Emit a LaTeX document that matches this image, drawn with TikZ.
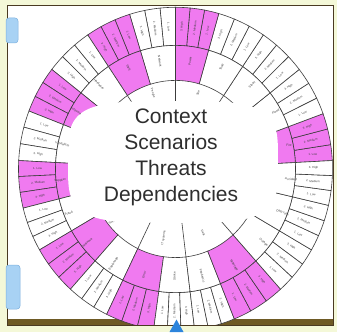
\documentclass[tikz,border=0pt]{standalone}
\usepackage{fontspec}
\setmainfont{Liberation Sans}
\usepackage{tikz}

\definecolor{pagebg}{HTML}{F4F8D8}
\definecolor{framebrown}{HTML}{4A3A22}
\definecolor{barbrown}{HTML}{6E5A24}
\definecolor{wedgepink}{HTML}{F07AF0}
\definecolor{wedgeline}{HTML}{3C3C3C}
\definecolor{tabblue}{HTML}{A8D2F4}
\definecolor{tabedge}{HTML}{7DB0DE}
\definecolor{arrowblue}{HTML}{2C84DC}
\definecolor{titlegray}{HTML}{2E2E2E}

\tikzset{
  wedge/.style={draw=wedgeline, line width=0.6pt},
  outerlabel/.style={font=\fontsize{2.9}{3.3}\selectfont, text=black!75, inner sep=0pt},
  midlabel/.style={font=\fontsize{3.1}{3.5}\selectfont, text=black!75, inner sep=0pt},
  innerlabel/.style={font=\fontsize{3}{3.4}\selectfont, text=black!75, inner sep=0pt},
  sidetab/.style={fill=tabblue, draw=tabedge, line width=0.5pt, rounded corners=3pt},
  title/.style={font=\fontsize{21}{26}\selectfont, text=titlegray, align=center, inner sep=0pt}
}

\begin{document}
\begin{tikzpicture}[x=1pt, y=1pt]
        \useasboundingbox (0,0) rectangle (337,332);
        \fill [pagebg] (0,0) rectangle (337,332);
        \fill [white] (7,7) rectangle (333,326);
        \fill [barbrown] (7,7) rectangle (333,13);

        % the wheel
        \begin{scope}
        \clip (7.5,7) rectangle (332.5,325.5);
        \begin{scope}[shift={(175.5,163)}, yscale=1.03]
        \foreach \a/\b/\tone in {3/20/wedgepink, 20/38/white, 38/56/white, 56/74/white,
                74/90/wedgepink, 90/107/white, 107/124/wedgepink, 124/142/white,
                142/159/wedgepink, 159/177/white, 177/194/wedgepink, 194/210/white,
                210/228/wedgepink, 228/244/white, 244/262/wedgepink, 262/277/white,
                277/292/white, 292/312/wedgepink, 312/330/white, 330/347/white,
                347/363/white}{
            \pgfmathsetmacro\wid{(\b-\a)/3}
            \foreach \k in {0,1,2}{
                \pgfmathsetmacro\sa{\a+\k*\wid}
                \pgfmathsetmacro\ea{\sa+\wid}
                \filldraw [wedge, fill=\tone] (\sa:120pt) arc [start angle=\sa, end angle=\ea, radius=120pt]
                    -- (\ea:157pt) arc [start angle=\ea, end angle=\sa, radius=157pt] -- cycle;
            }
            \filldraw [wedge, fill=\tone] (\a:86pt) arc [start angle=\a, end angle=\b, radius=86pt]
                -- (\b:120pt) arc [start angle=\b, end angle=\a, radius=120pt] -- cycle;
        }

        % inner ring
        \foreach \ang in {20,56,90,124,194,244,277,312}
            \draw [wedge] (\ang:86pt) -- (\ang:40pt);
        \foreach \ang/\rad/\txt [count=\i] in {73/77/Site, 107/77/People, 219/79/Suppliers,
                260/68/IT systems, 294/68/Data}{
            \pgfmathsetmacro\rot{\ang-180*floor((\ang+90)/180)}
            \node [innerlabel, rotate=\rot] (in-\i) at (\ang:\rad pt) {\txt};
        }

        % white centre
        \fill [white, shift={(-2.5,6.8)}] plot [domain=0:360, samples=145, variable=\t]
            ({105*sign(cos(\t))*sqrt(abs(cos(\t)))}, {59*sign(sin(\t))*sqrt(abs(sin(\t)))}) -- cycle;

        % labels of the two outer rings
        \foreach \a/\b/\name [count=\g] in {3/20/Fire, 20/38/Flood, 38/56/Storm, 56/74/Theft,
                74/90/Power, 90/107/Network, 107/124/Staff, 124/142/Hardware,
                142/159/Software, 159/177/Vandalism, 177/194/Supplier, 194/210/Fraud,
                210/228/Malware, 228/244/Espionage, 244/262/Error, 262/277/Strike,
                277/292/Pandemic, 292/312/Sabotage, 312/330/Outage, 330/347/Data loss,
                347/363/Accident}{
            \pgfmathsetmacro\ang{(\a+\b)/2}
            \pgfmathsetmacro\rot{\ang-180*floor((\ang+90)/180)}
            \pgfmathsetmacro\rad{104+12*abs(cos(\ang))}
            \node [midlabel, rotate=\rot] (mid-\g) at (\ang:\rad pt) {\name};
            \pgfmathsetmacro\wid{(\b-\a)/3}
            \foreach \k/\lvl in {1/Low, 2/Medium, 3/High}{
                \pgfmathsetmacro\mida{\a+(\k-0.5)*\wid}
                \pgfmathsetmacro\rota{\mida-180*floor((\mida+90)/180)}
                \node [outerlabel, rotate=\rota] (out-\g-\k) at (\mida:138pt) {\k. \lvl};
            }
        }
        \end{scope}
        \end{scope}

        \draw [framebrown, line width=1pt] (7,7) rectangle (333,326);

        \node [title] (centre) at (171,175) {Context\\Scenarios\\Threats\\Dependencies};

        % tabs and marker
        \draw [sidetab] (6,289) rectangle (18,314);
        \draw [sidetab] (6,23) rectangle (20,67);
        \fill [arrowblue] (169.5,0) -- (176.5,12.5) -- (183.5,0) -- cycle;
\end{tikzpicture}
\end{document}
